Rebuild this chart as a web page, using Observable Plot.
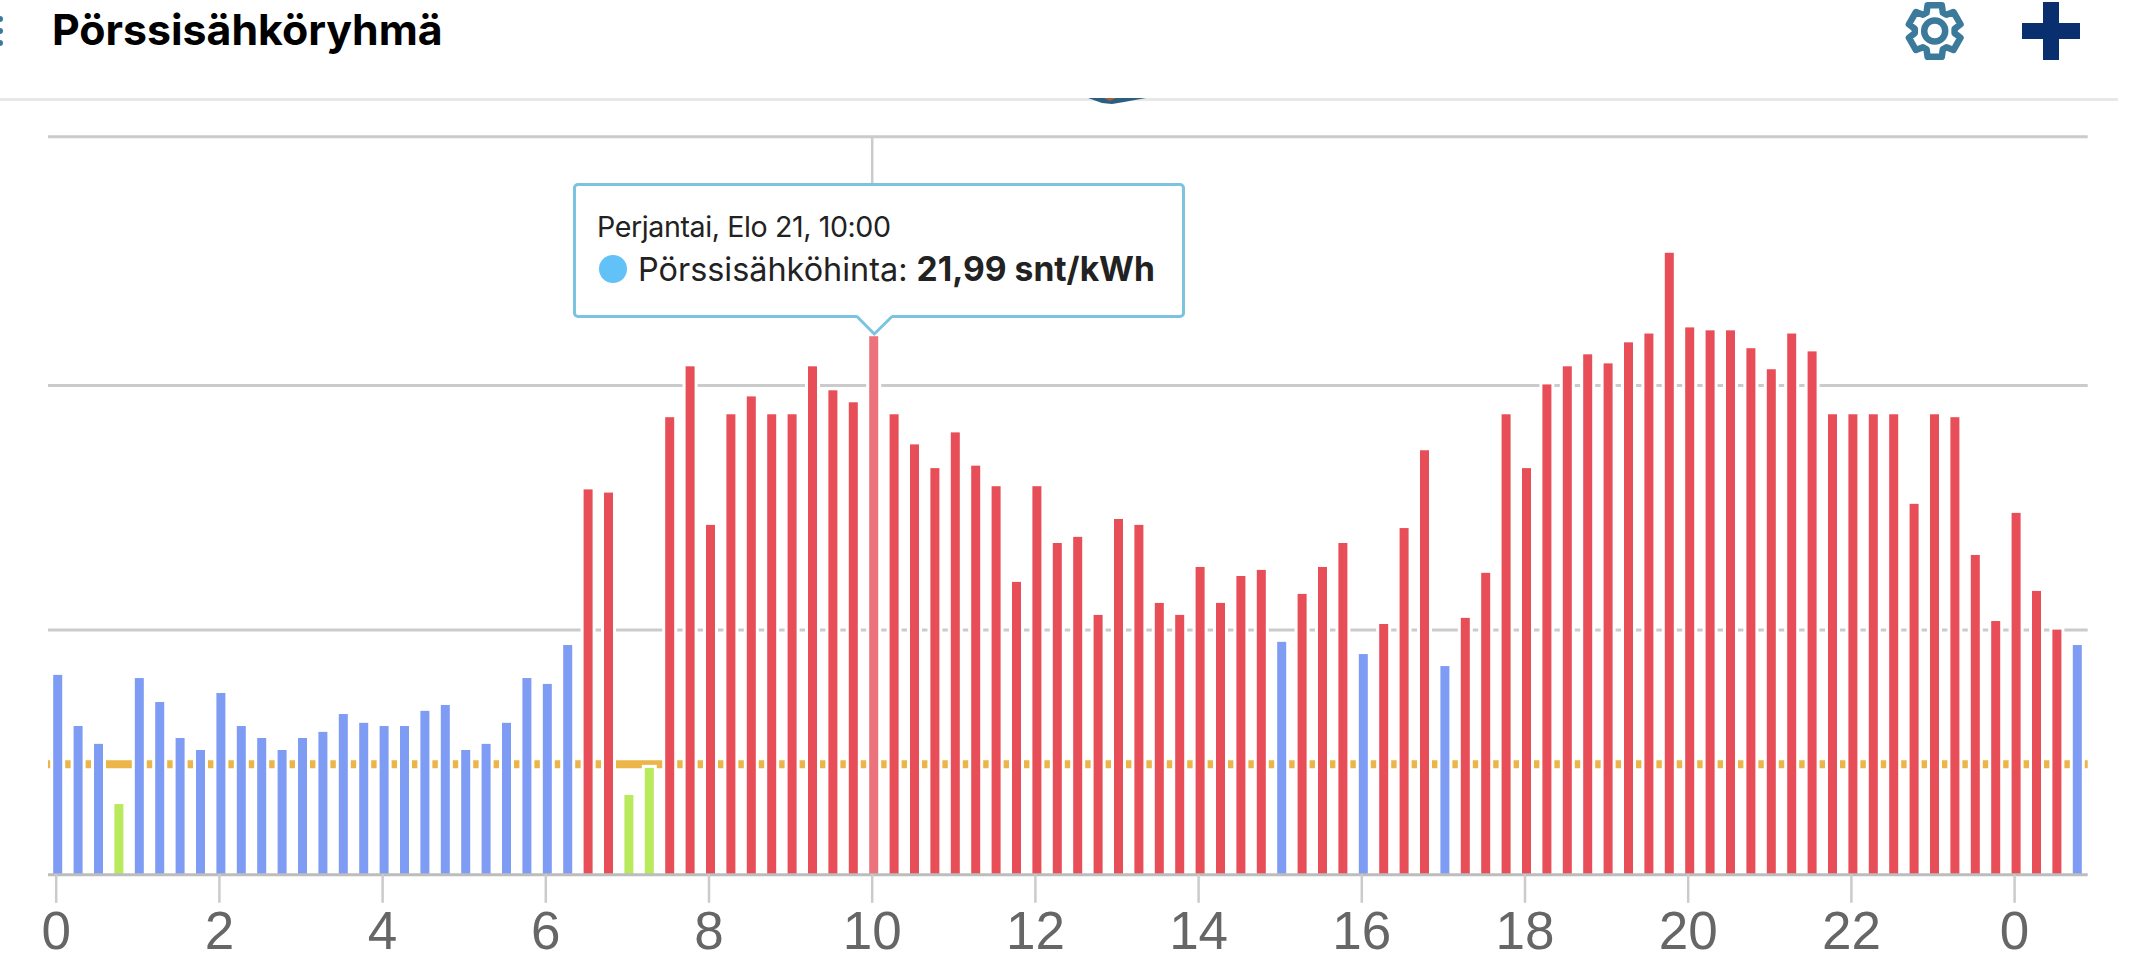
<!DOCTYPE html>
<html lang="fi">
<head>
<meta charset="utf-8">
<title>Pörssisähköryhmä</title>
<script src="https://cdn.jsdelivr.net/npm/d3@7"></script>
<script src="https://cdn.jsdelivr.net/npm/@observablehq/plot@0.6"></script>
<style>
  html, body { margin: 0; padding: 0; background: #fff; }
  #page { position: relative; width: 2148px; height: 975px; overflow: hidden; font-family: Inter, Roboto, sans-serif; }
  #header { position: absolute; left: 0; top: 0; width: 2118px; height: 98px; border-bottom: 3px solid #e8e8e8; }
  #title { position: absolute; left: 52px; top: 6px; font: 700 42.8px/48px Inter, sans-serif; color: #000; white-space: nowrap; margin: 0; }
  #chart { position: absolute; left: 0; top: 100px; }
  #icons { position: absolute; left: 0; top: 0; pointer-events: none; }
  #tip { position: absolute; left: 573px; top: 183px; width: 606px; height: 129px; border: 3px solid #7cc3e0; border-radius: 5px; background: #fff; color: #222; }
  #tip .l1 { position: absolute; left: 21px; top: 24px; font: 400 28.6px/34px Inter, sans-serif; white-space: nowrap; letter-spacing: -0.4px; }
  #tip .l2 { position: absolute; left: 62px; top: 63px; font: 400 32.4px/40px Inter, sans-serif; white-space: nowrap; }
  #tip .l2 b { font-weight: 700; font-size: 33.6px; }
  #tip .dot { position: absolute; left: 23px; top: 69px; width: 28px; height: 28px; border-radius: 50%; background: #62c1f7; }
</style>
</head>
<body>
<div id="page">
  <div id="header"><h1 id="title">Pörssisähköryhmä</h1></div>
  <div id="chart"></div>
  <div id="tip">
    <div class="l1">Perjantai, Elo 21, 10:00</div>
    <div class="dot"></div>
    <div class="l2">Pörssisähköhinta: <b>21,99 snt/kWh</b></div>
  </div>
  <svg id="icons" width="2148" height="975"></svg>
</div>
<script>
// Prices in snt/kWh, one bar per quarter of an hour from 00:00 to 00:45 the next day
const prices00to06 = [8.15,6.06,5.33,2.87, 8.02,7.04,5.57,5.08, 7.41,6.06,5.57,5.08, 5.57,5.82,6.55,6.19, 6.06,6.06,6.68,6.92, 5.08,5.33,6.19,8.02];
const prices06to12 = [7.78,9.37,15.73,15.6, 3.24,4.35,18.68,20.76, 14.28,18.8,19.53,18.8, 18.8,20.76,19.78,19.29, 21.99,18.8,17.57,16.6, 18.06,16.7,15.86,11.95];
const prices12to18 = [15.86,13.54,13.79,10.6, 14.52,14.28,11.09,10.6, 12.56,11.09,12.19,12.44, 9.5,11.46,12.56,13.54, 9.0,10.23,14.15,17.33, 8.51,10.48,12.32,18.8];
const prices18to24 = [16.6,20.02,20.76,21.25, 20.88,21.74,22.1,25.4, 22.35,22.23,22.23,21.5, 20.64,22.1,21.37,18.8, 18.8,18.8,18.8,15.14, 18.8,18.68,13.05,10.35];
const pricesNextDay = [14.77,11.58,10.0,9.37];
const prices = [...prices00to06, ...prices06to12, ...prices12to18, ...prices18to24, ...pricesNextDay];

const tickHours = [0,2,4,6,8,10,12,14,16,18,20,22,24];
const gridValues = [10,20,30.16];
const averagePrice = 4.52;
const selectedHour = 10;
const levels = ["halpa","normaali","kallis","valittu"];
const levelColors = ["#b8ea5c","#7f9cf5","#e84e57","#ec737b"];

const bars = prices.map((price, i) => {
  const hour = i / 4;
  const level = hour === selectedHour ? "valittu" : price < averagePrice ? "halpa" : price < 10 ? "normaali" : "kallis";
  return {hour, price, level};
});

const chart = Plot.plot({
  width: 2148,
  height: 875,
  marginLeft: 48,
  marginRight: 60.3,
  marginTop: 36.3,
  marginBottom: 100.7,
  x: {domain: [-0.0944, 24.902], axis: null},
  y: {domain: [0, 30.16], axis: null},
  color: {domain: levels, range: levelColors},
  style: {background: "transparent"},
  marks: [
    Plot.ruleY(gridValues, {stroke: "#cbcbcb", strokeWidth: 3}),
    Plot.ruleY([averagePrice], {stroke: "#ecb549", strokeWidth: 8}),
    Plot.ruleX([selectedHour], {stroke: "#cbcbcb", strokeWidth: 2.5}),
    Plot.rectY(bars, {
      x1: d => d.hour - 0.125,
      x2: d => d.hour + 0.125,
      y1: 0,
      y2: "price",
      insetLeft: 5.7,
      insetRight: 5.7,
      dx: 2,
      fill: "level",
      stroke: "white",
      strokeWidth: 6,
      paintOrder: "stroke"
    }),
    Plot.ruleY([0], {stroke: "#bdbdbd", strokeWidth: 3}),
    Plot.axisX(tickHours, {
      anchor: "bottom",
      label: null,
      tickSize: 28.5,
      tickPadding: 8,
      tickFormat: d => String(d % 24),
      fontSize: 53,
      fontFamily: "'Liberation Sans', sans-serif",
      stroke: "#cbcbcb",
      strokeWidth: 2.5,
      fill: "#666"
    })
  ]
});
document.getElementById("chart").append(chart);

// Page chrome around the chart: tooltip pointer and header icons
const ns = "http://www.w3.org/2000/svg";
const icons = document.getElementById("icons");
function add(tag, attrs) {
  const el = document.createElementNS(ns, tag);
  for (const k in attrs) el.setAttribute(k, attrs[k]);
  icons.append(el);
  return el;
}
add("polygon", {points: "857,315 874.3,334 892,315", fill: "#fff"});
add("polyline", {points: "857,316.5 874.3,334 892,316.5", fill: "none", stroke: "#7cc3e0", "stroke-width": 3});
// gear
const teeth = 6, rOut = 26.7, rIn = 20, pts = [];
for (let i = 0; i < teeth; i++) {
  const a = -Math.PI / 2 + i * 2 * Math.PI / teeth, w = 0.27, v = 0.42;
  pts.push([a - v, rIn], [a - w, rOut], [a + w, rOut], [a + v, rIn]);
}
add("polygon", {
  points: pts.map(([a, r]) => `${1934.7 + r * Math.cos(a)},${31 + r * Math.sin(a)}`).join(" "),
  fill: "none", stroke: "#3c7a9b", "stroke-width": 6.5, "stroke-linejoin": "round"
});
add("circle", {cx: 1934.7, cy: 31, r: 10.5, fill: "none", stroke: "#3c7a9b", "stroke-width": 6.5});
// plus
add("rect", {x: 2022, y: 23, width: 58, height: 16, fill: "#0a2f6e"});
add("rect", {x: 2043, y: 2, width: 16, height: 58, fill: "#0a2f6e"});
// clipped logo under the header edge
add("polygon", {points: "1088,98 1146,98 1124,102 1112,104 1102,103", fill: "#2c5f7e"});
add("polygon", {points: "1104,98 1116,98 1110,101", fill: "#a8623a"});
// clipped menu dots at the left edge
for (const cy of [19, 31, 43]) add("circle", {cx: 0, cy, r: 3, fill: "#3c7a9b"});
</script>
</body>
</html>
